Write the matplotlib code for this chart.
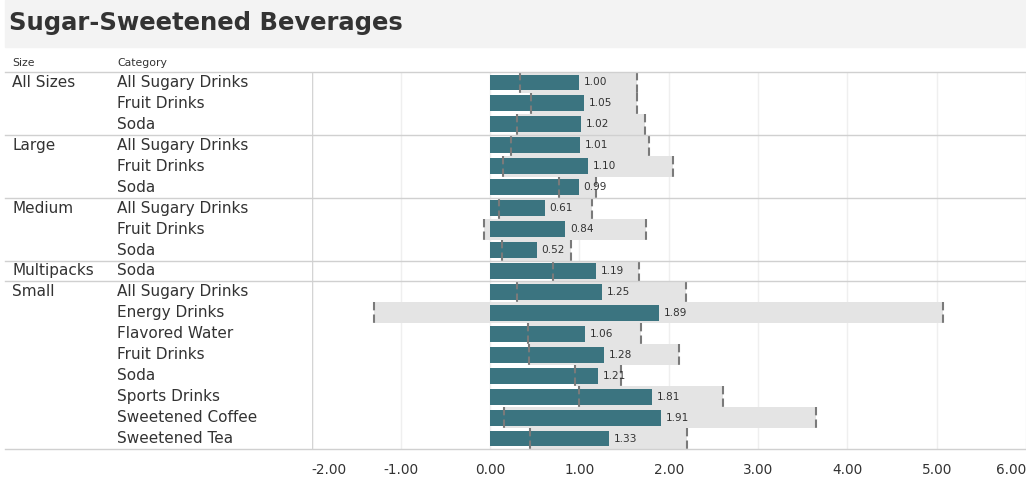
import matplotlib
matplotlib.use("Agg")
import matplotlib.pyplot as plt
import matplotlib.transforms as mtransforms
from matplotlib.lines import Line2D
from matplotlib.patches import Rectangle

plt.rcParams['font.family'] = ['DejaVu Sans']

sizes = ["All Sizes", "All Sizes", "All Sizes", "Large", "Large", "Large",
         "Medium", "Medium", "Medium", "Multipacks",
         "Small", "Small", "Small", "Small", "Small", "Small", "Small", "Small"]
categories = ["All Sugary Drinks", "Fruit Drinks", "Soda",
              "All Sugary Drinks", "Fruit Drinks", "Soda",
              "All Sugary Drinks", "Fruit Drinks", "Soda",
              "Soda",
              "All Sugary Drinks", "Energy Drinks", "Flavored Water", "Fruit Drinks",
              "Soda", "Sports Drinks", "Sweetened Coffee", "Sweetened Tea"]
values = [1.00, 1.05, 1.02, 1.01, 1.10, 0.99, 0.61, 0.84, 0.52, 1.19,
          1.25, 1.89, 1.06, 1.28, 1.21, 1.81, 1.91, 1.33]
lower = [0.34, 0.46, 0.30, 0.23, 0.14, 0.77, 0.10, -0.07, 0.13, 0.70,
         0.30, -1.30, 0.42, 0.43, 0.95, 1.00, 0.16, 0.45]
upper = [1.65, 1.64, 1.73, 1.78, 2.05, 1.19, 1.14, 1.75, 0.90, 1.67,
         2.19, 5.07, 1.69, 2.12, 1.46, 2.61, 3.65, 2.20]
x_ticks = [-2, -1, 0, 1, 2, 3, 4, 5, 6]

W, H = 1026, 479
fig = plt.figure(figsize=(W / 100, H / 100), dpi=100)

def fx(px):
    return px / W

def fy(py):
    return 1 - py / H

TXT = "#333333"

# title band
fig.patches.append(Rectangle((fx(5), fy(47)), fx(1026) - fx(5), fy(0) - fy(47),
                             transform=fig.transFigure, color="#f3f3f3", zorder=0))
fig.text(fx(9), fy(23), "Sugar-Sweetened Beverages", fontsize=17.5, fontweight="bold",
         color=TXT, va="center", ha="left")

left_px, right_px, top_px, bot_px = 311.5, 1026, 72, 449
ax = fig.add_axes([fx(left_px), fy(bot_px), fx(right_px) - fx(left_px), fy(top_px) - fy(bot_px)])
n = len(values)
rows = list(range(n))
ax.set_xlim(-2, 6)
ax.set_ylim(n - 0.5, -0.5)

# gridlines
for t in x_ticks:
    ax.axvline(t, color="#efefef", lw=1, zorder=0)

# bands
ax.barh(rows, [u - l for l, u in zip(lower, upper)], left=lower, height=1.0,
        color="#e4e4e4", zorder=1)
# bars
ax.barh(rows, values, height=0.76, color="#3b7480", zorder=2)
# dashed markers
dash = (0, (4.0, 2.0))
ax.vlines(lower, [r - 0.5 for r in rows], [r + 0.5 for r in rows], colors="#7a7a7a",
          lw=1.5, linestyles=[dash], zorder=3)
ax.vlines(upper, [r - 0.5 for r in rows], [r + 0.5 for r in rows], colors="#7a7a7a",
          lw=1.5, linestyles=[dash], zorder=3)
# value labels
for r, v in zip(rows, values):
    ax.annotate(f"{v:.2f}", (v, r), xytext=(3.5, 0), textcoords="offset points",
                fontsize=7.6, color=TXT, va="center", ha="left", zorder=4)

for s in ax.spines.values():
    s.set_visible(False)
ax.set_yticks([])
ax.set_xticks(x_ticks)
ax.set_xticklabels([f"{t:.2f}" for t in x_ticks], fontsize=9.8, color=TXT)
ax.tick_params(axis="x", length=0, pad=10)
labs = ax.get_xticklabels()
labs[0].set_ha("left")
labs[-1].set_ha("right")

# left border of pane
ax.axvline(-2, color="#d4d4d4", lw=1, zorder=5)

blend = mtransforms.blended_transform_factory(fig.transFigure, ax.transData)

# headers
fig.text(fx(12), fy(63), "Size", fontsize=7.8, color=TXT, va="center")
fig.text(fx(117), fy(63), "Category", fontsize=7.8, color=TXT, va="center")

# row labels
prev = None
for r, (s, c) in enumerate(zip(sizes, categories)):
    if s != prev:
        fig.text(fx(12), r, s, transform=blend, fontsize=11, color=TXT, va="center")
        if prev is not None:
            fig.add_artist(Line2D([fx(5), fx(1026)], [r - 0.5, r - 0.5], transform=blend,
                                  color="#d0d0d0", lw=1))
    fig.text(fx(117), r, c, transform=blend, fontsize=11, color=TXT, va="center")
    prev = s

# header line and bottom axis line
fig.add_artist(Line2D([fx(5), fx(1026)], [-0.5, -0.5], transform=blend, color="#d0d0d0", lw=1))
fig.add_artist(Line2D([fx(5), fx(1026)], [n - 0.5, n - 0.5], transform=blend, color="#d0d0d0", lw=1))

fig.savefig("out.png", dpi=100)
